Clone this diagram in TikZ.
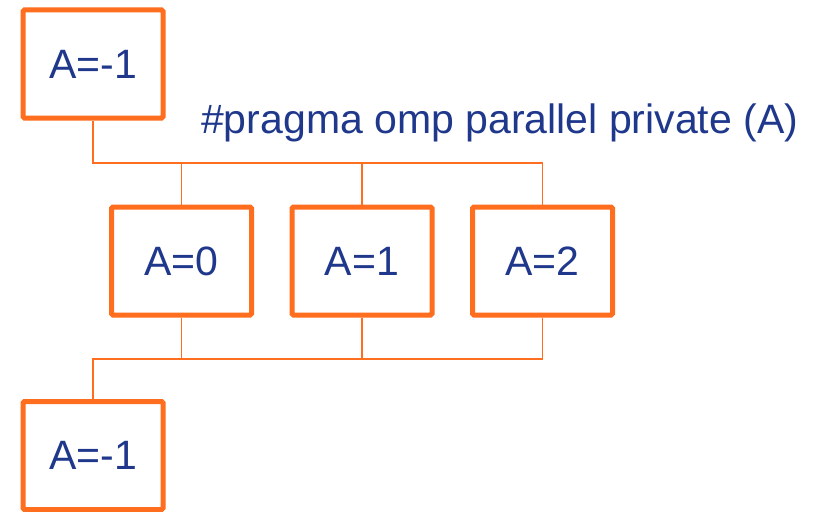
\documentclass[tikz,border=0pt]{standalone}
\usepackage{fontspec}
\setmainfont{Liberation Sans}
\definecolor{boxorange}{RGB}{255,110,30}
\definecolor{textblue}{RGB}{31,56,140}
\begin{document}
\begin{tikzpicture}[x=1pt,y=-1pt,
  valbox/.style={draw=boxorange, line width=5pt, rounded corners=1.5pt,
    minimum width=140pt, minimum height=108pt, inner sep=0pt,
    text=textblue, font=\fontsize{41}{49}\selectfont, fill=white},
  wire/.style={draw=boxorange, line width=1.4pt}]
  \clip (0,0) rectangle (813,511);
  \fill[white] (0,0) rectangle (813,511);

  % the serial value before the parallel region
  \node[valbox] (top) at (93,64) {A=-1};

  % one private copy per thread
  \node[valbox] (m0) at (181.5,261) {A=0};
  \node[valbox] (m1) at (362,261) {A=1};
  \node[valbox] (m2) at (542.5,261) {A=2};

  % the value after the parallel region
  \node[valbox] (bot) at (93,455.5) {A=-1};

  \node[anchor=base west, inner sep=0pt, text=textblue,
        font=\fontsize{41}{49}\selectfont] (pragma) at (201,133)
        {\#pragma omp parallel private (A)};

  % fork
  \coordinate (upbus) at (0,163);
  \draw[wire] (top.south) |- (m2.north |- upbus) -- (m2.north);
  \draw[wire] (m0.north |- upbus) -- (m0.north);
  \draw[wire] (m1.north |- upbus) -- (m1.north);

  % join
  \coordinate (lowbus) at (0,359);
  \draw[wire] (m2.south) |- (bot.north |- lowbus) -- (bot.north);
  \draw[wire] (m0.south) -- (m0.south |- lowbus);
  \draw[wire] (m1.south) -- (m1.south |- lowbus);
\end{tikzpicture}
\end{document}
